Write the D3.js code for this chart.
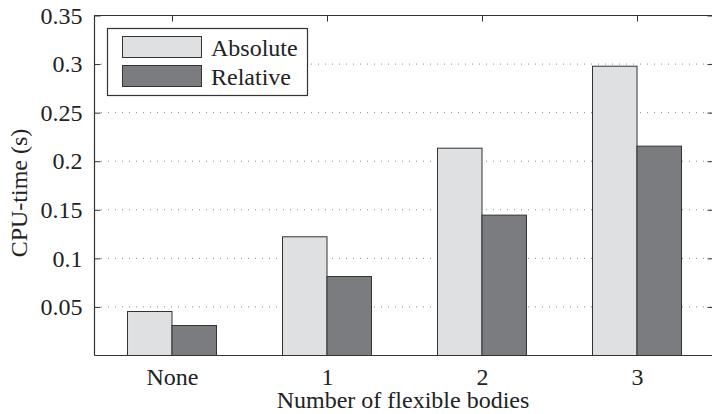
<!DOCTYPE html>
<html>
<head>
<meta charset="utf-8">
<script src="https://cdn.jsdelivr.net/npm/d3@7"></script>
<style>
  html, body { margin: 0; padding: 0; background: #fff; }
  svg { display: block; }
  text { font-family: "Liberation Serif", "Times New Roman", serif; fill: #222; }
</style>
</head>
<body>
<svg id="chart" width="712" height="414"></svg>
<script>
// Data
const categories = ["None", "1", "2", "3"];
const seriesNames = ["Absolute", "Relative"];
const absoluteTimes = [0.0453, 0.1222, 0.2134, 0.2978];
const relativeTimes = [0.0309, 0.0813, 0.1445, 0.2155];
const yTickValues = [0.05, 0.1, 0.15, 0.2, 0.25, 0.3, 0.35];
const yTickLabels = ["0.05", "0.1", "0.15", "0.2", "0.25", "0.3", "0.35"];
const xAxisTitle = "Number of flexible bodies";
const yAxisTitle = "CPU-time (s)";

const seriesValues = [absoluteTimes, relativeTimes];
const seriesColors = ["#dfe0e2", "#7b7c80"];
const edgeColor = "#333";
const fontSize = 24;

const svg = d3.select("#chart");
const plot = { left: 94, right: 714, top: 15, bottom: 355 };

const x0 = d3.scaleBand().domain(categories).range([plot.left, plot.right]).padding(0);
const x1 = d3.scaleBand().domain(seriesNames).range([0, x0.bandwidth()])
  .paddingInner(0).paddingOuter(0.742);
const y = d3.scaleLinear().domain([0, 0.35]).range([plot.bottom, plot.top]);

// Dotted grid lines
svg.append("g").selectAll("line").data(yTickValues).join("line")
  .attr("x1", plot.left).attr("x2", plot.right)
  .attr("y1", d => y(d) + 0.5).attr("y2", d => y(d) + 0.5)
  .attr("stroke", "#8a8a8a").attr("stroke-width", 1)
  .attr("stroke-dasharray", "1,6");

// Bars
const groups = svg.append("g").selectAll("g").data(categories).join("g")
  .attr("transform", c => `translate(${x0(c)},0)`);
groups.selectAll("rect")
  .data((c, i) => seriesNames.map((s, k) => ({ s, k, v: seriesValues[k][i] })))
  .join("rect")
  .attr("x", d => x1(d.s) + 0.5)
  .attr("width", x1.bandwidth())
  .attr("y", d => y(d.v) + 0.5)
  .attr("height", d => y(0) - y(d.v))
  .attr("fill", d => seriesColors[d.k])
  .attr("stroke", edgeColor).attr("stroke-width", 1);

// Axes box with inward ticks
const tickLen = 6;
const axisLeft = d3.axisLeft(y).tickValues(yTickValues).tickSize(-tickLen)
  .tickFormat((d, i) => yTickLabels[i]).tickPadding(12);
const gl = svg.append("g").attr("transform", `translate(${plot.left + 0.5},0.5)`).call(axisLeft);
const axisRight = d3.axisRight(y).tickValues(yTickValues).tickSize(-tickLen).tickFormat("");
const gr = svg.append("g").attr("transform", `translate(${plot.right - 0.5},0.5)`).call(axisRight);
const xCenter = d3.scalePoint().domain(categories).range([x0(categories[0]) + x0.bandwidth() / 2,
  x0(categories[categories.length - 1]) + x0.bandwidth() / 2]);
const axisBottom = d3.axisBottom(xCenter).tickSize(-tickLen).tickPadding(12);
const gb = svg.append("g").attr("transform", `translate(0.5,${plot.bottom + 0.5})`).call(axisBottom);
const axisTop = d3.axisTop(xCenter).tickSize(-tickLen).tickFormat("");
const gt = svg.append("g").attr("transform", `translate(0.5,${plot.top + 0.5})`).call(axisTop);

[gl, gr, gb, gt].forEach(g => {
  g.attr("font-size", fontSize).attr("font-family", "'Liberation Serif', 'Times New Roman', serif");
  g.selectAll(".domain").attr("stroke", edgeColor).attr("stroke-width", 1.2);
  g.selectAll(".tick line").attr("stroke", edgeColor);
  g.selectAll("text").attr("fill", "#222");
});
// bottom ticks sit under bar edges; keep them behind the bars
gb.selectAll(".tick line").remove();
gl.selectAll(".domain").attr("d", `M0,${plot.bottom}V${plot.top}`);
gr.selectAll(".domain").attr("d", `M0,${plot.bottom}V${plot.top}`);
gb.selectAll(".domain").attr("d", `M${plot.left},0H${plot.right}`);
gt.selectAll(".domain").attr("d", `M${plot.left},0H${plot.right}`);

// Axis titles
svg.append("text").attr("x", (plot.left + 712) / 2).attr("y", 408)
  .attr("text-anchor", "middle").attr("font-size", fontSize).text(xAxisTitle);
svg.append("text").attr("transform", `translate(27,${(plot.top + plot.bottom) / 2 + 8}) rotate(-90)`)
  .attr("text-anchor", "middle").attr("font-size", fontSize).text(yAxisTitle);

// Legend
const legend = svg.append("g");
legend.append("rect").attr("x", 107.5).attr("y", 28.5).attr("width", 200).attr("height", 67)
  .attr("fill", "#fff").attr("stroke", edgeColor).attr("stroke-width", 1.2);
seriesNames.forEach((name, k) => {
  const top = [36.5, 65.5][k];
  legend.append("rect").attr("x", 122.5).attr("y", top).attr("width", 79).attr("height", 21)
    .attr("fill", seriesColors[k]).attr("stroke", edgeColor).attr("stroke-width", 1);
  legend.append("text").attr("x", 211).attr("y", top + 19).attr("font-size", fontSize).text(name);
});
</script>
</body>
</html>
